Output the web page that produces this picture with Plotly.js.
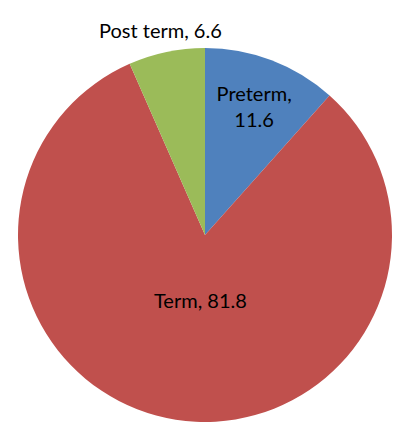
<!DOCTYPE html>
<html>
<head>
<meta charset="utf-8">
<script src="https://cdn.plot.ly/plotly-3.0.1.min.js"></script>
<style>
  html, body { margin: 0; padding: 0; background: #fff; }
  #chart { width: 400px; height: 440px; }
</style>
</head>
<body>
<div id="chart"></div>
<script>
// DATA
let labels = ['Preterm', 'Term', 'Post term'];
let values = [11.6, 81.8, 6.6];
let colors = ['#4F81BD', '#C0504D', '#9BBB59'];

let font = { family: 'Lato, "Open Sans", sans-serif', size: 20, color: '#000' };

let trace = {
    type: 'pie',
    labels: labels, values: values,
    sort: false, direction: 'clockwise', rotation: 0,
    marker: { colors: colors, line: { width: 0 } },
    // only Preterm uses the built-in inside label; the other two are placed as annotations
    texttemplate: ['%{label},<br>%{value}', '', ''],
    textposition: 'inside',
    insidetextorientation: 'horizontal',
    textfont: font,
    automargin: false,
    showlegend: false, hoverinfo: 'label+value',
    domain: { x: [0.045, 0.98], y: [0.041, 0.891] }
};

let layout = {
    width: 400, height: 440,
    margin: { l: 0, r: 0, t: 0, b: 0 },
    paper_bgcolor: '#fff',
    showlegend: false,
    annotations: [
        { text: `${labels[1]}, ${values[1]}`, xref: 'paper', yref: 'paper', x: 0.5, y: 0.318,
          xanchor: 'center', yanchor: 'middle', showarrow: false, font: font },
        { text: `${labels[2]}, ${values[2]}`, xref: 'paper', yref: 'paper', x: 0.4, y: 0.932,
          xanchor: 'center', yanchor: 'middle', showarrow: false, font: font }
    ]
};

Plotly.newPlot('chart', [trace], layout, { displayModeBar: false, staticPlot: true });
</script>
</body>
</html>
